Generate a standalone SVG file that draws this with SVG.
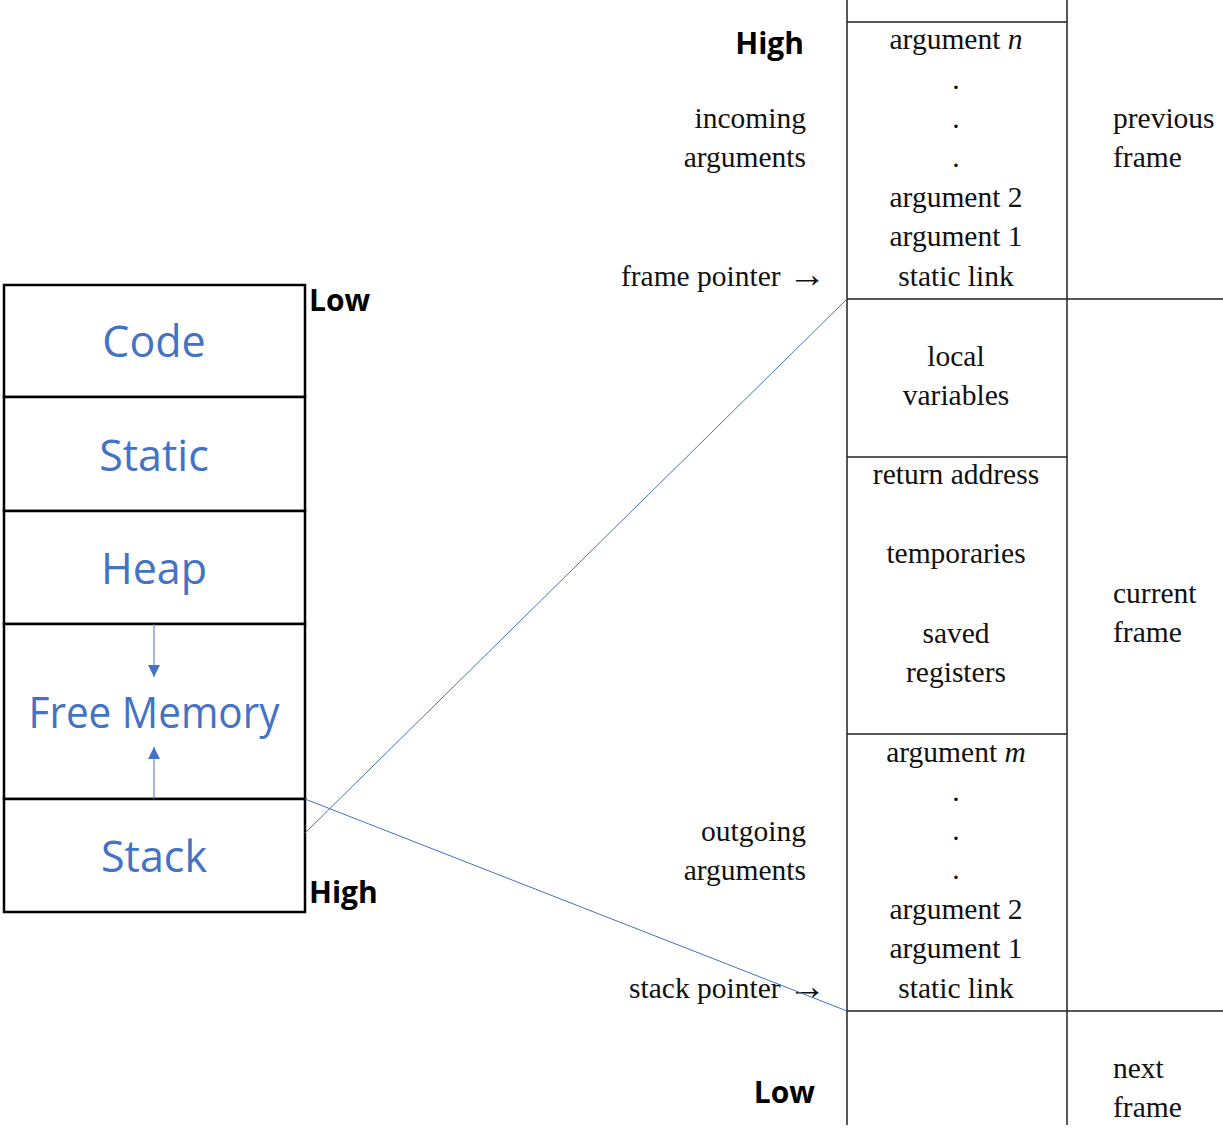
<svg xmlns="http://www.w3.org/2000/svg" width="1223" height="1137" viewBox="0 0 1223 1137">
<style>
.box{fill:#fff;stroke:#000;stroke-width:2.5}
.seg{font-family:"Open Sans","Liberation Sans",sans-serif;font-size:43px;fill:#4472C4;text-anchor:middle}
.lbl{font-family:"Open Sans","Liberation Sans",sans-serif;font-size:30px;font-weight:bold;fill:#000}
.t{font-family:"Liberation Serif",serif;font-size:29.5px;fill:#111}
.ar{font-family:"Liberation Serif",serif;font-size:38px}
.c{text-anchor:middle}
.r{text-anchor:end}
.grid{stroke:#222;stroke-width:1.5;fill:none}
.con{stroke:#4472C4;stroke-width:1;fill:none}
</style>
<defs>
<marker id="ah" viewBox="0 0 10 10" refX="10" refY="5" markerWidth="12" markerHeight="12" markerUnits="userSpaceOnUse" orient="auto">
<path d="M0,0 L10,5 L0,10 z" fill="#4472C4"/>
</marker>
</defs>
<rect width="1223" height="1137" fill="#fff"/>
<g id="memory">
<g id="code"><rect class="box" x="4" y="285" width="301" height="112"/><text class="seg" x="154" y="357">Code</text></g>
<g id="static"><rect class="box" x="4" y="397" width="301" height="114"/><text class="seg" x="154" y="471">Static</text></g>
<g id="heap"><rect class="box" x="4" y="511" width="301" height="113"/><text class="seg" x="154" y="584">Heap</text></g>
<g id="free"><rect class="box" x="4" y="624" width="301" height="175"/><text class="seg" x="154" y="728" textLength="251" lengthAdjust="spacingAndGlyphs">Free Memory</text></g>
<g id="stack"><rect class="box" x="4" y="799" width="301" height="113"/><text class="seg" x="154" y="872">Stack</text></g>
<text class="lbl" x="309" y="311">Low</text>
<text class="lbl" x="309" y="903">High</text>
</g>
<g id="frame-table">
<path class="grid" d="M847,0 V1125 M1067,0 V1125 M847,22 H1067 M847,299 H1223 M847,457 H1067 M847,734 H1067 M847,1011 H1223"/>
<g id="incoming">
<text class="t c" x="956" y="49">argument <tspan font-style="italic">n</tspan></text>
<text class="t c" x="956" y="89">.</text>
<text class="t c" x="956" y="128">.</text>
<text class="t c" x="956" y="167">.</text>
<text class="t c" x="956" y="207">argument 2</text>
<text class="t c" x="956" y="246">argument 1</text>
<text class="t c" x="956" y="286">static link</text>
<text class="lbl r" x="804" y="54">High</text>
<text class="t r" x="806" y="128">incoming</text>
<text class="t r" x="806" y="167">arguments</text>
<text class="t r" x="826" y="286">frame pointer <tspan class="ar" dy="1">→</tspan></text>
<text class="t" x="1113" y="128">previous</text>
<text class="t" x="1113" y="167">frame</text>
</g>
<g id="locals">
<text class="t c" x="956" y="366">local</text>
<text class="t c" x="956" y="405">variables</text>
</g>
<g id="saved">
<text class="t c" x="956" y="484">return address</text>
<text class="t c" x="956" y="563">temporaries</text>
<text class="t c" x="956" y="643">saved</text>
<text class="t c" x="956" y="682">registers</text>
<text class="t" x="1113" y="603">current</text>
<text class="t" x="1113" y="642">frame</text>
</g>
<g id="outgoing">
<text class="t c" x="956" y="762">argument <tspan font-style="italic">m</tspan></text>
<text class="t c" x="956" y="801">.</text>
<text class="t c" x="956" y="840">.</text>
<text class="t c" x="956" y="879">.</text>
<text class="t c" x="956" y="919">argument 2</text>
<text class="t c" x="956" y="958">argument 1</text>
<text class="t c" x="956" y="998">static link</text>
<text class="t r" x="806" y="841">outgoing</text>
<text class="t r" x="806" y="880">arguments</text>
<text class="t r" x="826" y="998">stack pointer <tspan class="ar" dy="1">→</tspan></text>
</g>
<g id="next">
<text class="lbl r" x="815" y="1103">Low</text>
<text class="t" x="1113" y="1078">next</text>
<text class="t" x="1113" y="1117">frame</text>
</g>
</g>
<g id="connectors">
<line class="con" x1="154" y1="624" x2="154" y2="677" marker-end="url(#ah)"/>
<line class="con" x1="154" y1="799" x2="154" y2="747" marker-end="url(#ah)"/>
<line class="con" x1="305" y1="833" x2="847" y2="299"/>
<line class="con" x1="305" y1="799" x2="847" y2="1011"/>
</g>
</svg>
